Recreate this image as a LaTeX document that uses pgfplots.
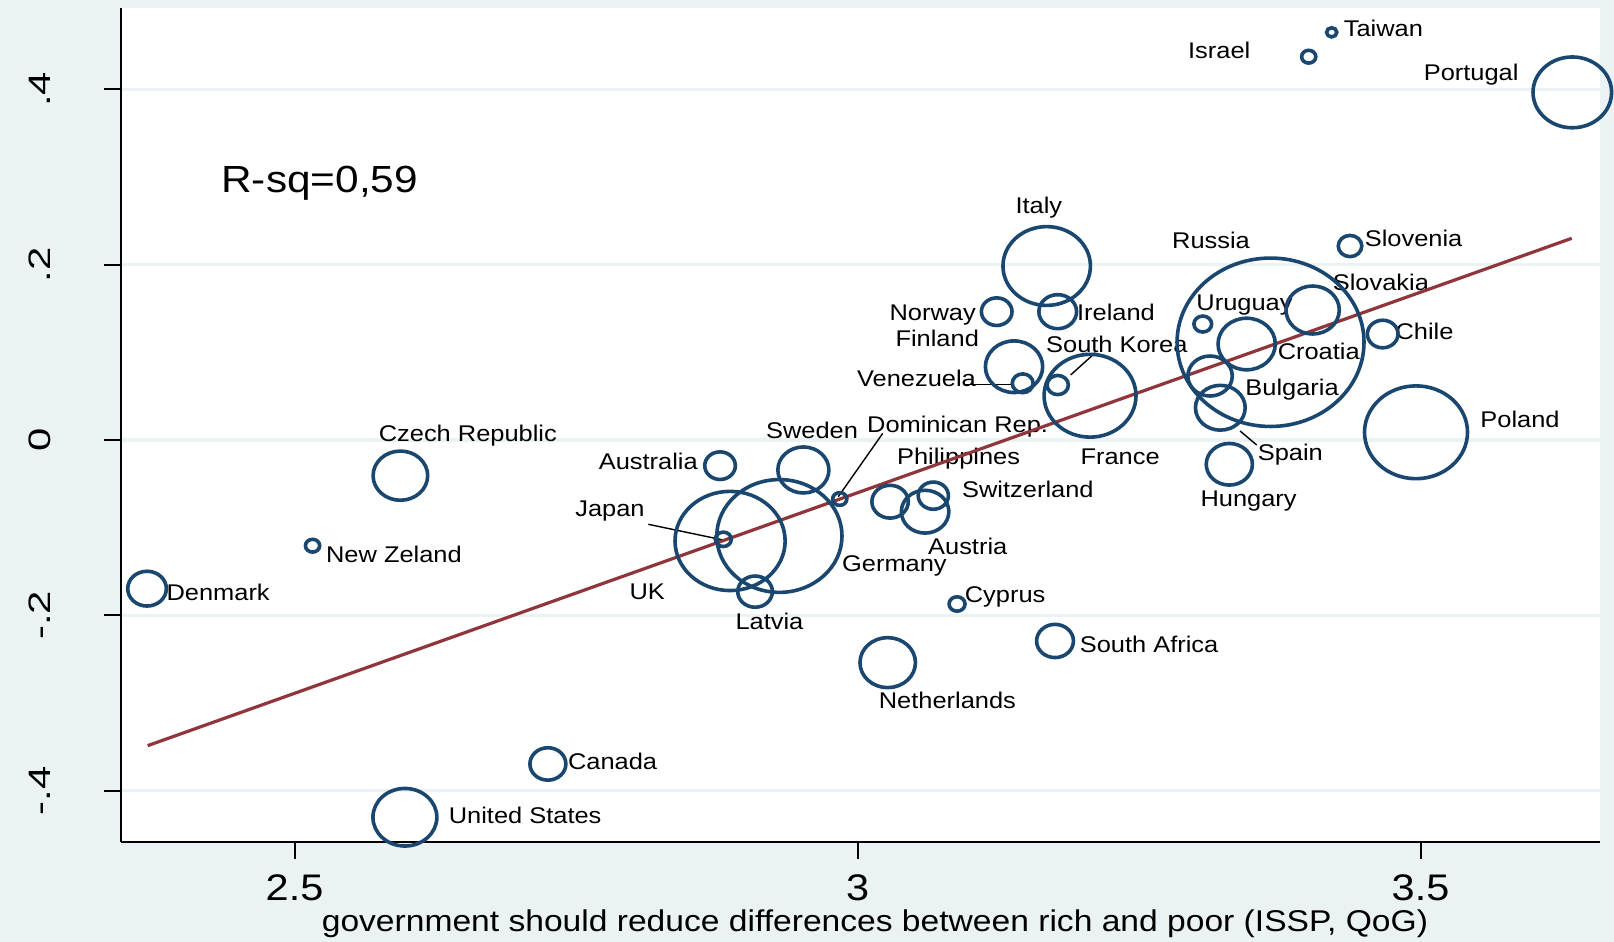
\documentclass[border=0pt]{standalone}
\usepackage{pgfplots}
\pgfplotsset{compat=1.18}
\usepackage{fontspec}
\setmainfont{Liberation Sans}[FakeStretch=1.12]
\newfontfamily\yfont{Liberation Sans}[FakeStretch=1.35]
\definecolor{bgblue}{RGB}{234,242,243}
\definecolor{snavy}{RGB}{26,71,111}
\definecolor{smaroon}{RGB}{144,53,59}
\tikzset{
  lab/.style={font=\fontsize{11.35}{13}\selectfont, anchor=base west, inner sep=0pt, xshift=-0.8pt},
  lead/.style={black, line width=0.7pt},
}

% country, x = support for redistribution, y = outcome, r = marker radius (pt)
\pgfplotstableread{
name x y r
Taiwan 3.4211 0.4651 2.3
Israel 3.4007 0.4373 3.2
Portugal 3.6348 0.3966 17.7
Italy 3.1680 0.1985 19.7
Russia 3.3668 0.1115 42.1
Slovenia 3.4374 0.2213 5.3
Slovakia 3.4042 0.1483 12.0
Norway 3.1236 0.1464 6.9
Ireland 3.1778 0.1464 8.5
Uruguay 3.3066 0.1323 4.0
Finland 3.1390 0.0836 12.9
Croatia 3.3456 0.1095 12.9
SouthKorea 3.1778 0.0627 4.8
Chile 3.4664 0.1209 6.9
Venezuela 3.1467 0.0647 4.7
Bulgaria 3.3131 0.0730 10.0
France 3.2065 0.0505 20.7
Poland 3.4960 0.0088 23.2
CzechRepublic 2.5940 -0.0407 12.3
DominicanRep 2.9842 -0.0673 3.2
Sweden 2.9519 -0.0342 11.5
Australia 2.8779 -0.0293 6.9
Philippines 3.0289 -0.0704 8.2
Spain 3.3222 0.0368 11.2
Switzerland 3.0673 -0.0635 6.8
Hungary 3.3302 -0.0277 10.4
Japan 2.8808 -0.1133 3.6
NewZeland 2.5160 -0.1206 3.2
Austria 3.0600 -0.0818 10.7
Germany 2.9306 -0.1095 28.2
UK 2.8868 -0.1152 24.8
Denmark 2.3690 -0.1696 8.7
Latvia 2.9090 -0.1730 7.8
Cyprus 3.0884 -0.1871 3.6
SouthAfrica 3.1754 -0.2293 8.3
Netherlands 3.0268 -0.2540 12.5
Canada 2.7250 -0.3696 8.1
UnitedStates 2.5980 -0.4304 14.4
}\countries

\begin{document}
\begin{tikzpicture}
\path[use as bounding box, fill=bgblue] (-60.35pt,-50.15pt) rectangle (746.65pt,420.85pt);
\begin{axis}[
  at={(0pt,0pt)}, anchor=south west,
  scale only axis, width=739.65pt, height=416.6pt,
  xmin=2.3456, xmax=3.6594, ymin=-0.4583, ymax=0.4923,
  axis background/.style={fill=white},
  axis x line*=bottom, axis y line*=left,
  axis line style={-, black, line width=1pt},
  xtick={2.5,3,3.5}, xticklabels={2.5,3,3.5},
  ytick={-0.4,-0.2,0,0.2,0.4}, yticklabels={-.4,-.2,0,.2,.4},
  tick align=outside, major tick length=8.5pt,
  tick style={black, line width=1pt},
  ymajorgrids, grid style={bgblue, line width=1.6pt},
  xticklabel style={font=\fontsize{18.5}{20}\selectfont, inner sep=0pt, anchor=north},
  xticklabel shift=7.8pt,
  yticklabel style={font=\fontsize{15.5}{17}\yfont, rotate=90, anchor=south, inner sep=0pt},
  yticklabel shift=26.4pt,
  xlabel={government should reduce differences between rich and poor (ISSP, QoG)},
  xlabel style={font=\fontsize{15}{17}\selectfont, at={(axis description cs:0.5099,0)}, anchor=base, yshift=-44.9pt, inner sep=0pt},
  clip=false,
]
% weighted circles
\addplot[scatter, only marks, mark=o,
  scatter/use mapped color={draw=snavy, fill=none},
  visualization depends on={\thisrow{r} \as \rad},
  scatter/@pre marker code/.append style={/tikz/mark size=\rad},
  mark options={line width=1.8pt, xscale=1.11},
] table[x=x, y=y] {\countries};

% country labels
\node[lab] at (axis cs:3.4329,0.4609) {Taiwan};
\node[lab] at (axis cs:3.2947,0.4354) {Israel};
\node[lab] at (axis cs:3.5040,0.4107) {Portugal};
\node[lab] at (axis cs:3.1414,0.2586) {Italy};
\node[lab] at (axis cs:3.2805,0.2187) {Russia};
\node[lab] at (axis cs:3.4516,0.2205) {Slovenia};
\node[lab] at (axis cs:3.4232,0.1700) {Slovakia};
\node[lab] at (axis cs:3.0295,0.1369) {Norway};
\node[lab] at (axis cs:3.1961,0.1361) {Ireland};
\node[lab] at (axis cs:3.3021,0.1483) {Uruguay};
\node[lab] at (axis cs:3.0348,0.1064) {Finland};
\node[lab] at (axis cs:3.1686,0.0996) {South Korea};
\node[lab] at (axis cs:3.4789,0.1149) {Chile};
\node[lab] at (axis cs:3.3743,0.0913) {Croatia};
\node[lab] at (axis cs:3.0007,0.0608) {Venezuela};
\node[lab] at (axis cs:3.3456,0.0505) {Bulgaria};
\node[lab] at (axis cs:3.0096,0.0083) {Dominican Rep.};
\node[lab] at (axis cs:3.5543,0.0140) {Poland};
\node[lab] at (axis cs:3.3566,-0.0236) {Spain};
\node[lab] at (axis cs:3.1991,-0.0285) {France};
\node[lab] at (axis cs:3.3057,-0.0761) {Hungary};
\node[lab] at (axis cs:2.5759,-0.0019) {Czech Republic};
\node[lab] at (axis cs:2.9199,0.0019) {Sweden};
\node[lab] at (axis cs:2.7713,-0.0334) {Australia};
\node[lab] at (axis cs:3.0362,-0.0274) {Philippines};
\node[lab] at (axis cs:3.0940,-0.0654) {Switzerland};
\node[lab] at (axis cs:2.7504,-0.0875) {Japan};
\node[lab] at (axis cs:3.0638,-0.1312) {Austria};
\node[lab] at (axis cs:2.5291,-0.1400) {New Zeland};
\node[lab] at (axis cs:2.9874,-0.1502) {Germany};
\node[lab] at (axis cs:2.3874,-0.1833) {Denmark};
\node[lab] at (axis cs:2.7986,-0.1825) {UK};
\node[lab] at (axis cs:3.0964,-0.1856) {Cyprus};
\node[lab] at (axis cs:2.8927,-0.2160) {Latvia};
\node[lab] at (axis cs:3.1985,-0.2426) {South Africa};
\node[lab] at (axis cs:3.0200,-0.3061) {Netherlands};
\node[lab] at (axis cs:2.7440,-0.3765) {Canada};
\node[lab] at (axis cs:2.6381,-0.4373) {United States};

% leader lines for crowded labels
\draw[lead] (axis cs:2.8142,-0.0962) -- (axis cs:2.8808,-0.1141);
\draw[lead] (axis cs:3.0224,0.0076) -- (axis cs:2.9829,-0.0647);
\draw[lead] (axis cs:3.0955,0.0635) -- (axis cs:3.1361,0.0635);
\draw[lead] (axis cs:3.2112,0.0996) -- (axis cs:3.1893,0.0742);
\draw[lead] (axis cs:3.3397,0.0103) -- (axis cs:3.3545,-0.0057);

% linear fit
\addplot[smaroon, line width=1.6pt] coordinates {(2.3696,-0.3487) (3.6343,0.2301)};

\node[font=\fontsize{18.9}{21}\selectfont, anchor=base west, inner sep=0pt] at (axis cs:2.4347,0.2821) {R-sq=0,59};
\end{axis}
\end{tikzpicture}
\end{document}
